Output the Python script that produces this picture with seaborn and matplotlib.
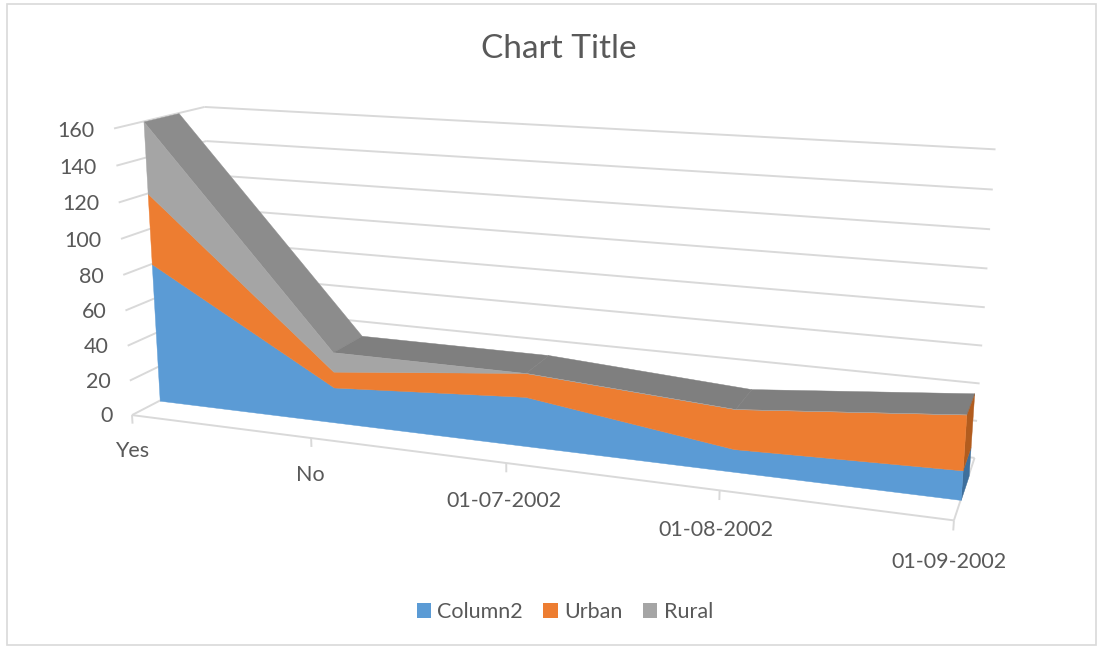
import numpy as np
import matplotlib
matplotlib.use("Agg")
import matplotlib.pyplot as plt
import matplotlib.transforms as mtransforms
import seaborn as sns
from matplotlib.patches import Patch, Rectangle
from mpl_toolkits.mplot3d import proj3d
from mpl_toolkits.mplot3d.art3d import Poly3DCollection, Line3DCollection

# ---- data -------------------------------------------------------------
categories = ["Yes", "No", "01-07-2002", "01-08-2002", "01-09-2002"]
column2 = [80, 20, 27, 12, 15]
urban = [40, 9, 13, 21, 28]
rural = [40, 11, 0, 0, 0]
series_names = ["Column2", "Urban", "Rural"]
value_ticks = [0, 20, 40, 60, 80, 100, 120, 140, 160]

# ---- style ------------------------------------------------------------
sns.set_theme(style="white")
plt.rcParams["font.family"] = ["Lato", "DejaVu Sans"]
palette = sns.color_palette(["#5B9BD5", "#ED7D31", "#A5A5A5"])
end_palette = sns.color_palette(["#3E6F9C", "#B25C1E", "#7A7A7A"])
text_color = "#595959"
grid_color = "#D9D9D9"

W, HF = 1103, 648
fig = plt.figure(figsize=(W / 100, HF / 100), dpi=100, facecolor="white")

# 3D stage: x = category index, y = depth (0 front .. 1 back), z = value
ax = fig.add_axes([0.06991, -0.15807, 0.81215, 1.3824], projection="3d")
ax.set_xlim(0, 4)
ax.set_ylim(0, 1)
ax.set_zlim(0, 160)
ax.set_box_aspect((4, 0.8133, 1.4356))
ax.view_init(elev=14.03, azim=-69.70)
ax.set_proj_type("persp", focal_length=0.3405)
ax.set_axis_off()
ax.patch.set_visible(False)
ax.computed_zorder = False

slab_front, slab_back = 0.3055, 0.6945
n = len(categories)
xi = np.arange(n)
layers = np.array([column2, urban, rural], dtype=float)
cum = np.vstack([np.zeros(n), np.cumsum(layers, axis=0)])


def add(coll):
    ax.add_collection3d(coll)
    coll.set_clip_on(False)


# walls: side + back gridlines, floor outline and category ticks
segs = []
for z in value_ticks:
    segs.append([(0, 0, z), (0, 1, z)])
    segs.append([(0, 1, z), (n - 1, 1, z)])
segs += [[(0, 0, 0), (n - 1, 0, 0)], [(n - 1, 0, 0), (n - 1, 1, 0)]]
for i in xi:
    segs.append([(i, 0, 0), (i, 0, -5)])
add(Line3DCollection(segs, colors=grid_color, linewidths=1.4, zorder=1))

# top surface of the stack, shaded by its slope
zscale = 1.4356 / 160
for j in range(n - 1):
    a, b = cum[-1][j], cum[-1][j + 1]
    nz = 1 / np.sqrt(1 + ((b - a) * zscale) ** 2)
    g = (127 + 42 * (1 - nz)) / 255
    q = [(j, slab_front, a), (j + 1, slab_front, b), (j + 1, slab_back, b), (j, slab_back, a)]
    add(Poly3DCollection([q], facecolor=(g, g, g), edgecolor=(g, g, g), linewidths=0.3, zorder=2))

# right end cap and front faces of each stacked layer
for k in range(3):
    lo, hi = cum[k][-1], cum[k + 1][-1]
    q = [(n - 1, slab_front, lo), (n - 1, slab_back, lo), (n - 1, slab_back, hi), (n - 1, slab_front, hi)]
    add(Poly3DCollection([q], facecolor=end_palette[k], edgecolor=end_palette[k], linewidths=0.3, zorder=2))
    v = [(x, slab_front, cum[k][x]) for x in xi] + [(x, slab_front, cum[k + 1][x]) for x in xi[::-1]]
    add(Poly3DCollection([v], facecolor=palette[k], edgecolor=palette[k], linewidths=0.3, zorder=3))

# axis labels, placed at the projected positions of their 3D anchors
M = ax.get_proj()
label_tf = mtransforms.offset_copy(ax.transData, fig=fig, x=0, y=-3.5, units="dots")
vz = np.array(value_ticks, dtype=float)
px, py, _ = proj3d.proj_transform(np.full_like(vz, -0.11), np.zeros_like(vz), vz, M)
for x2, y2, z in zip(px, py, value_ticks):
    ax.text2D(x2, y2, str(z), ha="right", va="center", fontsize=15.5, color=text_color,
              transform=label_tf)
cx, cy, _ = proj3d.proj_transform(xi - 0.01, np.zeros(n), np.full(n, -19.0), M)
for x2, y2, c in zip(cx, cy, categories):
    ax.text2D(x2, y2, c, ha="center", va="center", fontsize=15.5, color=text_color,
              transform=label_tf)

# title, legend, chart border
fig.text(0.507, 1 - 48.5 / HF, "Chart Title", ha="center", va="center", fontsize=24, color=text_color)
handles = [Patch(facecolor=palette[k], edgecolor="none", label=series_names[k]) for k in range(3)]
fig.legend(handles=handles, loc="center", bbox_to_anchor=(0.512, 1 - 612 / HF), ncol=3, frameon=False,
           fontsize=15.5, labelcolor=text_color, handlelength=0.66, handleheight=0.66,
           handletextpad=0.3, columnspacing=0.95)
fig.add_artist(Rectangle((6.5 / W, 3.5 / HF), 1089 / W, 641 / HF, transform=fig.transFigure,
                         fill=False, edgecolor=grid_color, linewidth=1.2))

fig.savefig("out.png", dpi=100)
